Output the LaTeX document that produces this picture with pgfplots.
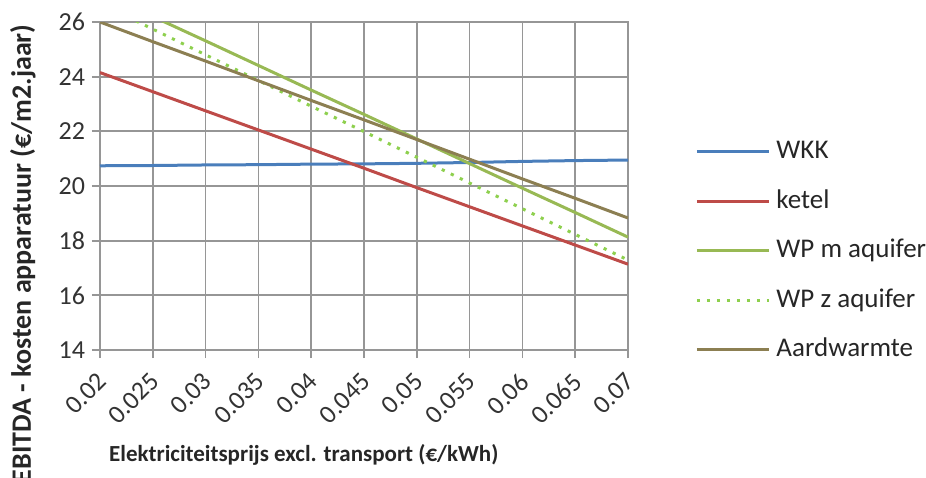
\documentclass[border=0pt]{standalone}
\usepackage{pgfplots}
\pgfplotsset{compat=1.18}
\usepackage{pgfplotstable}
\usepackage{fontspec}
\setmainfont{Carlito}

\definecolor{cWKK}{HTML}{4A7EBB}
\definecolor{cKetel}{HTML}{BE4B48}
\definecolor{cWPm}{HTML}{98B954}
\definecolor{cWPz}{HTML}{8ED04E}
\definecolor{cAard}{HTML}{8C7F52}
\definecolor{cGrid}{HTML}{969696}

\pgfplotstableread{
x      WKK    ketel  WPm    WPz    Aard
0.020  20.74  24.15  27.10  26.68  26.00
0.025  20.75  23.45  26.20  25.74  25.28
0.030  20.77  22.75  25.31  24.80  24.57
0.035  20.78  22.05  24.41  23.86  23.85
0.040  20.80  21.35  23.51  22.92  23.13
0.045  20.81  20.65  22.62  21.99  22.42
0.050  20.83  19.94  21.72  21.05  21.70
0.055  20.86  19.24  20.82  20.11  20.98
0.060  20.90  18.54  19.92  19.17  20.26
0.065  20.93  17.84  19.03  18.23  19.55
0.070  20.95  17.14  18.13  17.29  18.83
}\data

\begin{document}
\begin{tikzpicture}
\useasboundingbox (-50pt,-63.5pt) rectangle (413pt,175pt);
\begin{axis}[
  at={(0,0)}, anchor=south west,
  scale only axis,
  width=264pt, height=164pt,
  xmin=0.02, xmax=0.07,
  ymin=14, ymax=26,
  scaled x ticks=false,
  xtick={0.02,0.025,0.03,0.035,0.04,0.045,0.05,0.055,0.06,0.065,0.07},
  xticklabels={0.02,0.025,0.03,0.035,0.04,0.045,0.05,0.055,0.06,0.065,0.07},
  ytick={14,16,...,26},
  /pgf/number format/assume math mode=true,
  tick label style={font=\fontsize{13}{15}\selectfont, text=black!80},
  xticklabel style={rotate=45, anchor=north east, inner sep=1pt, xshift=-5pt, yshift=-2pt},
  xmajorgrids=true, ymajorgrids=true,
  grid style={cGrid, line width=0.85pt},
  axis line style={cGrid, line width=0.85pt},
  tick style={cGrid, line width=0.85pt},
  tick align=outside,
  tick pos=left,
  major tick length=4pt,
  xlabel={Elektriciteitsprijs excl. transport (€/kWh)},
  ylabel={EBITDA - kosten apparatuur (€/m2.jaar)},
  xlabel style={font=\bfseries\fontsize{11.5}{14}\selectfont, text=black!85,
    at={(axis description cs:0.386,-0.32)}, anchor=center},
  ylabel style={font=\bfseries\fontsize{14}{16}\selectfont, text=black!85,
    at={(axis description cs:-0.146,0.293)}, anchor=center},
  legend style={at={(axis description cs:1.127,0.302)}, anchor=west,
    draw=none, fill=none, inner sep=0pt, row sep=11.75pt,
    font=\fontsize{13.5}{15}\selectfont, text=black!85,
    nodes={inner sep=0pt, inner xsep=3pt, text height=10pt, text depth=3pt}},
  legend cell align=left,
  legend image code/.code={\draw[#1] (0pt,0pt) -- (36pt,0pt);},
]
\addplot[cWKK, line width=1.5pt] table[x=x, y=WKK] {\data};
\addlegendentry{WKK}
\addplot[cKetel, line width=1.5pt] table[x=x, y=ketel] {\data};
\addlegendentry{ketel}
\addplot[cWPm, line width=1.5pt] table[x=x, y=WPm] {\data};
\addlegendentry{WP m aquifer}
\addplot[cWPz, line width=1.5pt, dash pattern=on 1.6pt off 3.4pt] table[x=x, y=WPz] {\data};
\addlegendentry{WP z aquifer}
\addplot[cAard, line width=1.5pt] table[x=x, y=Aard] {\data};
\addlegendentry{Aardwarmte}
\end{axis}
\end{tikzpicture}
\end{document}
